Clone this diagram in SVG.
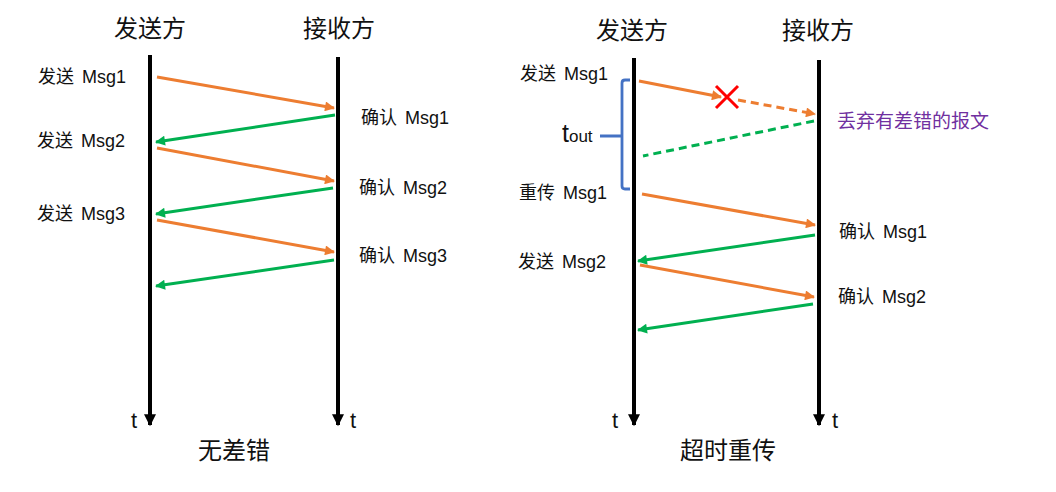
<svg xmlns="http://www.w3.org/2000/svg" width="1056" height="492" viewBox="0 0 1056 492">
<style>
text{font-family:"Liberation Sans","Noto Sans CJK SC",sans-serif;fill:#111}
.title{font-size:24px;text-anchor:middle}
.lbl{font-size:18px;word-spacing:3px}
.tt{font-size:22px}
.axis{stroke:#000;stroke-width:4;fill:none}
.o{stroke:#ED7D31;stroke-width:3;fill:none}
.g{stroke:#00B050;stroke-width:3;fill:none}
.dash{stroke-dasharray:8 5}
</style>
<defs>
<marker id="oh" viewBox="0 0 10 10" refX="9" refY="5" markerWidth="13" markerHeight="10" markerUnits="userSpaceOnUse" orient="auto"><path d="M0,0 L10,5 L0,10 z" fill="#ED7D31"/></marker>
<marker id="gh" viewBox="0 0 10 10" refX="9" refY="5" markerWidth="13" markerHeight="10" markerUnits="userSpaceOnUse" orient="auto"><path d="M0,0 L10,5 L0,10 z" fill="#00B050"/></marker>
<marker id="axh" viewBox="0 0 10 10" refX="9" refY="5" markerWidth="16" markerHeight="12" markerUnits="userSpaceOnUse" orient="auto"><path d="M0,0 L10,5 L0,10 z" fill="#000"/></marker>
</defs>

<g id="left-sender">
<text class="title" x="150" y="37">发送方</text>
<line class="axis" x1="150" y1="55" x2="150" y2="425" marker-end="url(#axh)"/>
<text class="tt" x="131" y="428">t</text>
</g>
<g id="left-receiver">
<text class="title" x="339" y="37">接收方</text>
<line class="axis" x1="338" y1="57" x2="338" y2="425" marker-end="url(#axh)"/>
<text class="tt" x="350" y="428">t</text>
</g>
<g id="left-labels">
<text class="lbl" x="38" y="83">发送 Msg1</text>
<text class="lbl" x="37" y="147">发送 Msg2</text>
<text class="lbl" x="37" y="220">发送 Msg3</text>
<text class="lbl" x="361" y="124">确认 Msg1</text>
<text class="lbl" x="359" y="194">确认 Msg2</text>
<text class="lbl" x="359" y="262">确认 Msg3</text>
<text class="title" x="234" y="459">无差错</text>
</g>

<g id="right-sender">
<text class="title" x="632" y="39">发送方</text>
<line class="axis" x1="634" y1="58" x2="634" y2="425" marker-end="url(#axh)"/>
<text class="tt" x="612" y="428">t</text>
</g>
<g id="right-receiver">
<text class="title" x="818" y="39">接收方</text>
<line class="axis" x1="819" y1="60" x2="819" y2="425" marker-end="url(#axh)"/>
<text class="tt" x="832" y="428">t</text>
</g>
<g id="timeout">
<path d="M630,80 H625 Q622,80 622,83 V186 Q622,189 625,189 H630 M622,136 H600" fill="none" stroke="#4472C4" stroke-width="2.8"/>
<text x="562" y="142"><tspan font-size="25">t</tspan><tspan font-size="17">out</tspan></text>
</g>
<g id="right-labels">
<text class="lbl" x="520" y="80">发送 Msg1</text>
<text class="lbl" x="519" y="199">重传 Msg1</text>
<text class="lbl" x="518" y="268">发送 Msg2</text>
<text class="lbl" x="839" y="238">确认 Msg1</text>
<text class="lbl" x="838" y="303">确认 Msg2</text>
<text x="837" y="128" style="fill:#7030A0;font-size:19px">丢弃有差错的报文</text>
<text class="title" x="728" y="459">超时重传</text>
</g>
<g id="error-mark">
<path d="M716,86 L738,108 M738,86 L716,108" stroke="#FF0000" stroke-width="3" fill="none"/>
</g>

<g id="connectors">
<line class="o" x1="157" y1="77" x2="334" y2="108" marker-end="url(#oh)"/>
<line class="g" x1="335" y1="115" x2="156" y2="142" marker-end="url(#gh)"/>
<line class="o" x1="157" y1="148" x2="334" y2="181" marker-end="url(#oh)"/>
<line class="g" x1="333" y1="188" x2="156" y2="214" marker-end="url(#gh)"/>
<line class="o" x1="157" y1="220" x2="334" y2="252" marker-end="url(#oh)"/>
<line class="g" x1="334" y1="260" x2="156" y2="286" marker-end="url(#gh)"/>

<line class="o" x1="639" y1="81" x2="721" y2="97" marker-end="url(#oh)"/>
<line class="o dash" x1="738" y1="100" x2="815" y2="114" marker-end="url(#oh)"/>
<line class="g dash" x1="814" y1="121" x2="643" y2="156"/>
<line class="o" x1="642" y1="194" x2="815" y2="225" marker-end="url(#oh)"/>
<line class="g" x1="815" y1="235" x2="638" y2="261" marker-end="url(#gh)"/>
<line class="o" x1="640" y1="265" x2="814" y2="297" marker-end="url(#oh)"/>
<line class="g" x1="813" y1="304" x2="638" y2="330" marker-end="url(#gh)"/>
</g>
</svg>
